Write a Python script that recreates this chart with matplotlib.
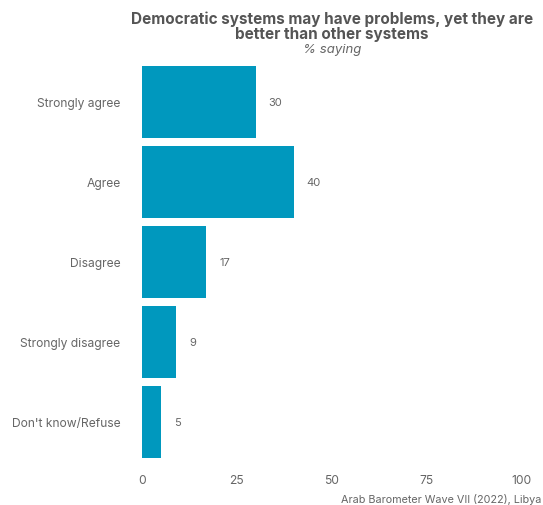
import matplotlib.pyplot as plt

# data
categories = ["Strongly agree", "Agree", "Disagree", "Strongly disagree", "Don't know/Refuse"]
values = [30, 40, 17, 9, 5]
x_ticks = [0, 25, 50, 75, 100]

bar_color = "#0098BE"
text_color = "#666666"

plt.rcParams["font.family"] = ["Inter", "DejaVu Sans"]

W, H = 543, 506
fig = plt.figure(figsize=(W / 100, H / 100), dpi=100)

# axes placed in pixel coordinates
left, right, top, bottom = 142, 521, 63, 463
ax = fig.add_axes([left / W, 1 - bottom / H, (right - left) / W, (bottom - top) / H])

y = list(range(len(categories)))
ax.barh(y, values, height=0.9, color=bar_color)
for yi, v in zip(y, values):
    ax.text(v + 3.4, yi, str(v), va="center", ha="left", fontsize=8, color=text_color)

ax.set_xlim(0, 100)
ax.set_ylim(len(categories) - 0.5, -0.5)
ax.set_yticks(y)
ax.set_yticklabels(categories, fontsize=8.7, color=text_color)
ax.set_xticks(x_ticks)
ax.set_xticklabels([str(t) for t in x_ticks], fontsize=8.7, color=text_color)
ax.tick_params(axis="both", length=0)
ax.tick_params(axis="y", pad=15.5)
ax.tick_params(axis="x", pad=9)
for s in ax.spines.values():
    s.set_visible(False)

fig.text(332 / W, 1 - 27 / H, "Democratic systems may have problems, yet they are\nbetter than other systems",
         ha="center", va="center", fontsize=11, fontweight="bold", color="#555555", linespacing=1.0)
fig.text(332 / W, 1 - 50 / H, "% saying", ha="center", va="center", fontsize=9.5,
         style="italic", color=text_color)
fig.text(541 / W, 1 - 500 / H, "Arab Barometer Wave VII (2022), Libya", ha="right", va="center",
         fontsize=7.8, color=text_color)

fig.savefig("out.png", dpi=100)
